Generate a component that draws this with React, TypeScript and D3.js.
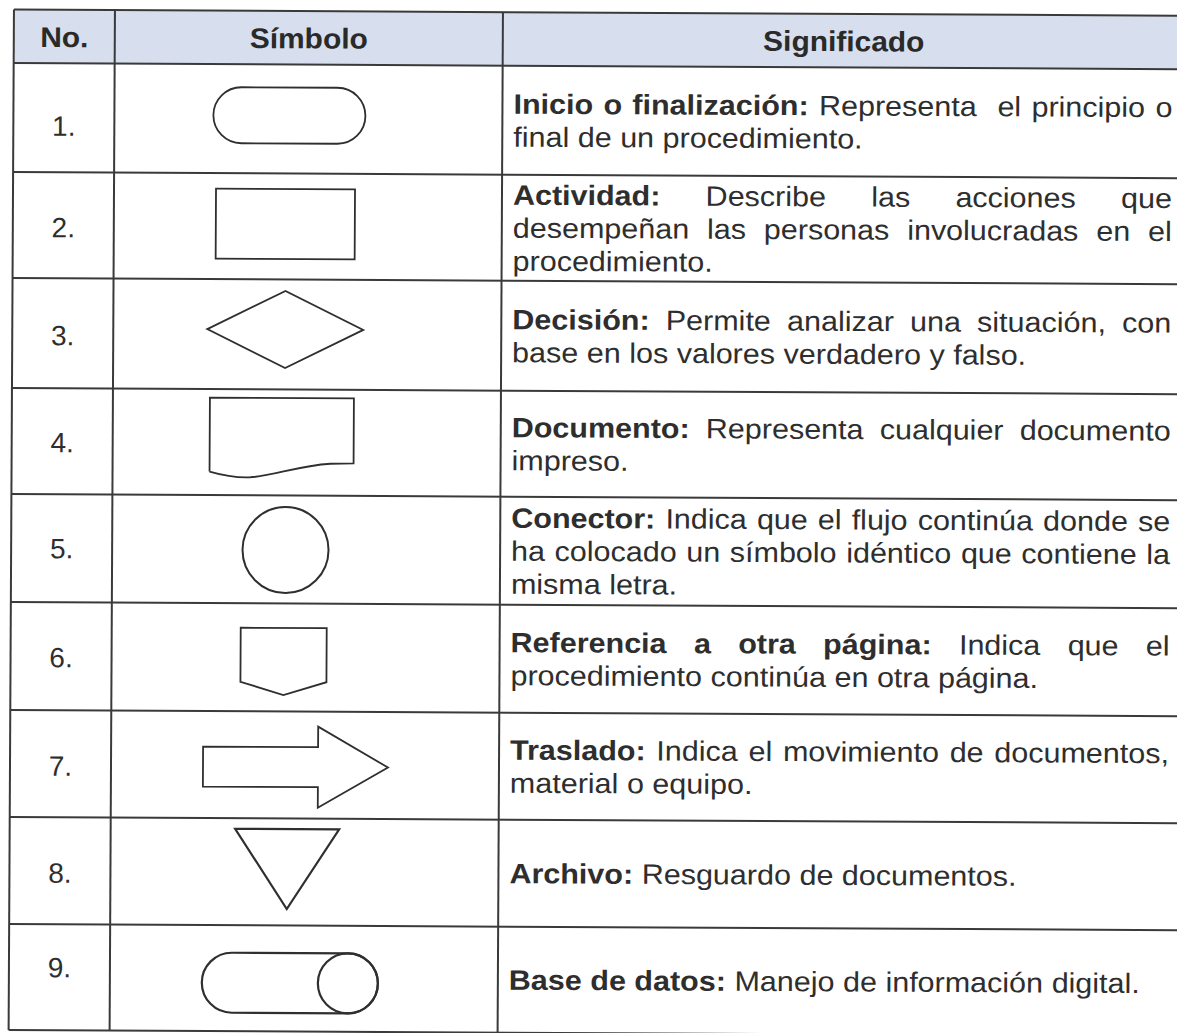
import React, { useMemo } from "react";
import * as d3 from "d3";

// ---------- data ----------
const headers = ["No.", "Símbolo", "Significado"];
const rowNumbers = ["1.", "2.", "3.", "4.", "5.", "6.", "7.", "8.", "9."];
const symbolKinds = [
  "terminator",
  "process",
  "decision",
  "document",
  "connector",
  "offpage",
  "arrow",
  "archive",
  "database",
];
const boldTerms = [
  "Inicio o finalización:",
  "Actividad:",
  "Decisión:",
  "Documento:",
  "Conector:",
  "Referencia a otra página:",
  "Traslado:",
  "Archivo:",
  "Base de datos:",
];
const descLines = [
  ["Inicio o finalización: Representa  el principio o", "final de un procedimiento."],
  ["Actividad: Describe las acciones que", "desempeñan las personas involucradas en el", "procedimiento."],
  ["Decisión: Permite analizar una situación, con", "base en los valores verdadero y falso."],
  ["Documento: Representa cualquier documento", "impreso."],
  ["Conector: Indica que el flujo continúa donde se", "ha colocado un símbolo idéntico que contiene la", "misma letra."],
  ["Referencia a otra página: Indica que el", "procedimiento continúa en otra página."],
  ["Traslado: Indica el movimiento de documentos,", "material o equipo."],
  ["Archivo: Resguardo de documentos."],
  ["Base de datos: Manejo de información digital."],
];

// ---------- layout ----------
const W = 1177;
const H = 1033;
const rowEdges = [9.5, 63, 172, 278, 388, 494, 602, 710, 817, 924, 1030];
const colEdges = [14, 115, 503, 1185];
const numDy = [8, 2, 2, 1, 0, 1, 2, 2, -10];
const symDy = [-3.5, -2.5, -5, -8, 0.5, 4, 2, -3, 4.5];
const FONT = '"Liberation Sans", Arial, Helvetica, sans-serif';
const FS = 28;
const SX = 1.09; // horizontal stretch of the scanned body text
const HFS = 28.5;
const HSX = 1.05;
const LH = 33;
const TEXT_COLOR = "#2e2e2e";
const LINE_COLOR = "#3a3a3a";
const textLeft = 514;
const textRight = 1173;

type Tok = { w: string; bold: boolean; gap: number };

function tokenize(line: string, boldCount: number): Tok[] {
  const parts = line.split(" ");
  const toks: Tok[] = [];
  let pending = 0;
  for (const p of parts) {
    if (p === "") {
      pending++;
      continue;
    }
    toks.push({ w: p, bold: toks.length < boldCount, gap: toks.length ? 1 + pending : 0 });
    pending = 0;
  }
  return toks;
}

function Symbol({ kind, cx, cy }: { kind: string; cx: number; cy: number }) {
  const line = d3.line();
  const poly = (pts: [number, number][]) =>
    line(pts.map(([x, y]) => [cx + x, cy + y]) as [number, number][]) + "Z";
  const common = { fill: "none", stroke: "#2f2f2f", strokeWidth: 1.8, strokeLinejoin: "miter" as const };
  switch (kind) {
    case "terminator":
      return <rect x={cx - 74} y={cy - 28} width={152} height={56} rx={28} ry={28} {...common} />;
    case "process":
      return <rect x={cx - 71} y={cy - 35} width={139} height={70} {...common} />;
    case "decision":
      return <path d={poly([[-79, 0], [-1, -38.5], [77, 0], [-1, 38.5]])} {...common} />;
    case "document": {
      const p = d3.path();
      p.moveTo(cx - 76, cy + 37.5);
      p.lineTo(cx - 76, cy - 36.5);
      p.lineTo(cx + 68, cy - 36.5);
      p.lineTo(cx + 68, cy + 28.5);
      p.lineTo(cx + 45, cy + 29);
      p.bezierCurveTo(cx + 12, cy + 31, cx - 13, cy + 42, cx - 36, cy + 43);
      p.bezierCurveTo(cx - 48, cy + 43.5, cx - 60, cy + 42, cx - 76, cy + 37.5);
      return <path d={p.toString()} {...common} />;
    }
    case "connector":
      return <circle cx={cx + 0.4} cy={cy} r={43} {...common} strokeWidth={2} />;
    case "offpage":
      return <path d={poly([[-44, -33.5], [42, -33.5], [42, 20.5], [-1, 33.5], [-44, 20.5]])} {...common} />;
    case "arrow":
      return (
        <path
          d={poly([[-81, -20], [34, -20], [34, -40.5], [104, 0], [34, 40.5], [34, 20], [-81, 20]])}
          {...common}
        />
      );
    case "archive":
      return <path d={poly([[-48.5, -40], [55.5, -40], [3.5, 40]])} {...common} strokeWidth={2.2} />;
    case "database": {
      const p = d3.path();
      p.moveTo(cx - 51, cy - 30);
      p.lineTo(cx + 65, cy - 30);
      p.arc(cx + 65, cy, 30, -Math.PI / 2, Math.PI / 2);
      p.lineTo(cx - 51, cy + 30);
      p.arc(cx - 51, cy, 30, Math.PI / 2, (3 * Math.PI) / 2);
      p.closePath();
      return (
        <g>
          <path d={p.toString()} {...common} strokeWidth={2.2} />
          <circle cx={cx + 65} cy={cy} r={30} {...common} strokeWidth={2.2} />
        </g>
      );
    }
    default:
      return null;
  }
}

export default function App() {
  const measure = useMemo(() => {
    const c = document.createElement("canvas");
    const ctx = c.getContext("2d")!;
    return (t: string, bold: boolean) => {
      ctx.font = `${bold ? "bold " : ""}${FS}px ${FONT}`;
      return ctx.measureText(t).width;
    };
  }, []);

  const rows = d3.pairs(rowEdges);
  const header = rows[0];
  const bodyRows = rows.slice(1);
  const symCx = 288;
  const numCx = (colEdges[0] + colEdges[1]) / 2;
  const innerRight = textLeft + (textRight - textLeft) / SX;

  const textEls: React.ReactNode[] = [];
  bodyRows.forEach(([top, bot], i) => {
    const lines = descLines[i];
    const n = lines.length;
    const mid = (top + bot) / 2;
    const boldCount = boldTerms[i].split(" ").length;
    lines.forEach((ln, j) => {
      const y = mid + (j - (n - 1) / 2) * LH + 10;
      const toks = tokenize(ln, j === 0 ? boldCount : 0);
      const widths = toks.map((t) => measure(t.w, t.bold));
      const sumW = d3.sum(widths);
      const sumGap = d3.sum(toks, (t) => t.gap);
      const justify = j < n - 1;
      const spaceW = measure(" ", false);
      const gapUnit = justify && sumGap > 0 ? (innerRight - textLeft - sumW) / sumGap : spaceW;
      let x = textLeft;
      toks.forEach((t, k) => {
        x += t.gap * gapUnit;
        textEls.push(
          <text
            key={`t${i}-${j}-${k}`}
            x={x}
            y={y}
            fontFamily={FONT}
            fontSize={FS}
            fontWeight={t.bold ? "bold" : "normal"}
            fill={TEXT_COLOR}
          >
            {t.w}
          </text>
        );
        x += widths[k];
      });
    });
  });

  return (
    <svg
      width={W}
      height={H}
      viewBox={`0 0 ${W} ${H}`}
      style={{ position: "absolute", left: 0, top: 0, background: "#fff" }}
    >
      <rect x={0} y={0} width={W} height={H} fill="#fff" />
      <g transform="rotate(0.3)">
        {/* header band */}
        <rect
          x={colEdges[0]}
          y={header[0]}
          width={colEdges[3] - colEdges[0]}
          height={header[1] - header[0]}
          fill="#d7deed"
        />
        {headers.map((h, k) => (
          <text
            key={h}
            transform={`translate(${(colEdges[k] + colEdges[k + 1]) / 2},${
              (header[0] + header[1]) / 2 + 10.5
            }) scale(${HSX},1)`}
            textAnchor="middle"
            fontFamily={FONT}
            fontSize={HFS}
            fontWeight="bold"
            fill="#2a2a2a"
          >
            {h}
          </text>
        ))}
        {/* grid */}
        {rowEdges.map((y, k) => (
          <line
            key={`h${k}`}
            x1={colEdges[0]}
            x2={colEdges[3]}
            y1={y}
            y2={y}
            stroke={LINE_COLOR}
            strokeWidth={2}
          />
        ))}
        {colEdges.map((x, k) => (
          <line
            key={`v${k}`}
            x1={x}
            x2={x}
            y1={rowEdges[0]}
            y2={rowEdges[rowEdges.length - 1]}
            stroke={LINE_COLOR}
            strokeWidth={2}
          />
        ))}
        {/* numbers */}
        {bodyRows.map(([top, bot], i) => (
          <text
            key={`n${i}`}
            x={numCx}
            y={(top + bot) / 2 + 10 + numDy[i]}
            textAnchor="middle"
            fontFamily={FONT}
            fontSize={FS}
            fill={TEXT_COLOR}
          >
            {rowNumbers[i]}
          </text>
        ))}
        {/* symbols */}
        {bodyRows.map(([top, bot], i) => (
          <Symbol key={`s${i}`} kind={symbolKinds[i]} cx={symCx} cy={(top + bot) / 2 + symDy[i]} />
        ))}
        <g transform={`translate(${textLeft},0) scale(${SX},1) translate(${-textLeft},0)`}>{textEls}</g>
      </g>
    </svg>
  );
}
